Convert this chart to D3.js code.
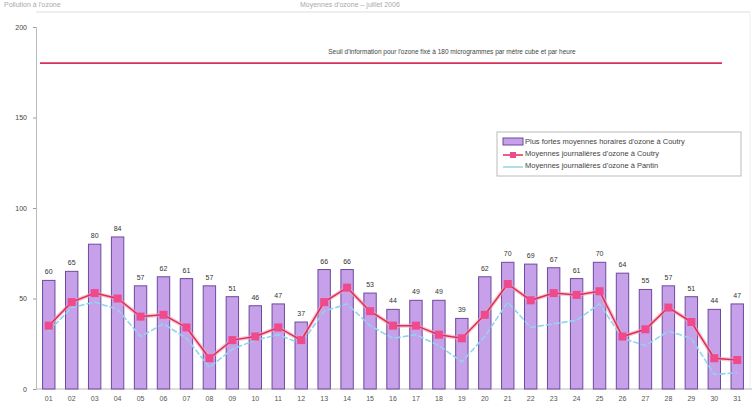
<!DOCTYPE html>
<html>
<head>
<meta charset="utf-8">
<script src="https://cdn.jsdelivr.net/npm/d3@7"></script>
<style>
  body { margin: 0; background: #fff; }
  svg { display: block; font-family: "Liberation Sans", Arial, sans-serif; }
</style>
</head>
<body>
<div id="chart"></div>
<script>
// days of the month
const days = d3.range(1, 32).map(d => d3.format("02")(d));
// plus fortes moyennes horaires d'ozone à Coutry
const maxHourly = [60, 65, 80, 84, 57, 62, 61, 57, 51, 46, 47, 37, 66, 66, 53, 44, 49, 49, 39, 62, 70, 69, 67, 61, 70, 64, 55, 57, 51, 44, 47];
// moyennes journalières à Coutry
const dailyCoutry = [35, 48, 53, 50, 40, 41, 34, 17, 27, 29, 34, 27, 48, 56, 43, 35, 35, 30, 28, 41, 58, 49, 53, 52, 54, 29, 33, 45, 37, 17, 16];
// moyennes journalières à Pantin
const dailyPantin = [32, 45, 48, 44, 29, 36, 28, 12, 22, 27, 30, 25, 43, 47, 35, 28, 30, 24, 15, 29, 48, 34, 36, 38, 47, 28, 24, 32, 28, 8, 9];
const yTicks = [0, 50, 100, 150, 200];
const threshold = 180;
const thresholdLabel = "Seuil d'information pour l'ozone fixé à 180 microgrammes par mètre cube et par heure";
const legendLabels = [
    "Plus fortes moyennes horaires d'ozone à Coutry",
    "Moyennes journalières d'ozone à Coutry",
    "Moyennes journalières d'ozone à Pantin"
];

const width = 754, height = 407;
const svg = d3.select("#chart").append("svg")
    .attr("width", width)
    .attr("height", height);

const x = d3.scaleBand()
    .domain(days)
    .range([32, 754])
    .padding(0.46);

const y = d3.scaleLinear()
    .domain([0, 200])
    .range([389, 27]);

// faint scan texts at the very top
svg.append("text").attr("x", 4).attr("y", 7).attr("font-size", 7).attr("fill", "#aaa")
    .text("Pollution à l'ozone");
svg.append("text").attr("x", 300).attr("y", 7).attr("font-size", 7).attr("fill", "#aaa")
    .text("Moyennes d'ozone – juillet 2006");

// frame
svg.append("line").attr("x1", 36).attr("x2", 750).attr("y1", 12).attr("y2", 12)
    .attr("stroke", "#ddd");
svg.append("line").attr("x1", 750).attr("x2", 750).attr("y1", 12).attr("y2", 389)
    .attr("stroke", "#eee");

// y axis
const yAxis = svg.append("g")
    .attr("transform", "translate(36,0)")
    .call(d3.axisLeft(y).tickValues(yTicks).tickSize(3).tickPadding(6));
yAxis.select(".domain").attr("stroke", "#bbb");
yAxis.selectAll(".tick line").attr("stroke", "#999");
yAxis.selectAll("text").attr("font-size", 7).attr("fill", "#444");

// x axis
const xAxis = svg.append("g")
    .attr("transform", "translate(0,389)")
    .call(d3.axisBottom(x).tickSize(0).tickPadding(7));
xAxis.select(".domain").attr("stroke", "#bbb").attr("d", "M36,0H752");
xAxis.selectAll("text").attr("font-size", 7).attr("fill", "#555");

// threshold
svg.append("line")
    .attr("x1", 40).attr("x2", 722)
    .attr("y1", y(threshold)).attr("y2", y(threshold))
    .attr("stroke", "#d8305a").attr("stroke-width", 1.8);
svg.append("text")
    .attr("x", 452).attr("y", y(threshold) - 9)
    .attr("text-anchor", "middle")
    .attr("font-size", 6.5).attr("fill", "#444")
    .text(thresholdLabel);

// bars
svg.append("g").selectAll("rect")
    .data(maxHourly)
    .join("rect")
    .attr("x", (d, i) => x(days[i]))
    .attr("y", d => y(d))
    .attr("width", x.bandwidth())
    .attr("height", d => y(0) - y(d))
    .attr("fill", "#c6a0e8")
    .attr("stroke", "#6e4a9e")
    .attr("stroke-width", 1);

svg.append("g").selectAll("text")
    .data(maxHourly)
    .join("text")
    .attr("x", (d, i) => x(days[i]) + x.bandwidth() / 2)
    .attr("y", d => y(d) - 6)
    .attr("text-anchor", "middle")
    .attr("font-size", 7)
    .attr("fill", "#333")
    .text(d => d);

const cx = (d, i) => x(days[i]) + x.bandwidth() / 2;

// Pantin line
svg.append("path")
    .datum(dailyPantin)
    .attr("fill", "none")
    .attr("stroke", "#92d3ee")
    .attr("stroke-width", 1.6)
    .attr("stroke-dasharray", "6,2")
    .attr("d", d3.line().x(cx).y(d => y(d)));

// Coutry line
svg.append("path")
    .datum(dailyCoutry)
    .attr("fill", "none")
    .attr("stroke", "#f4a3c0")
    .attr("stroke-width", 4)
    .attr("stroke-opacity", 0.6)
    .attr("d", d3.line().x(cx).y(d => y(d)));
svg.append("path")
    .datum(dailyCoutry)
    .attr("fill", "none")
    .attr("stroke", "#dc2f55")
    .attr("stroke-width", 1.5)
    .attr("d", d3.line().x(cx).y(d => y(d)));
svg.append("g").selectAll("rect")
    .data(dailyCoutry)
    .join("rect")
    .attr("x", (d, i) => cx(d, i) - 4)
    .attr("y", d => y(d) - 4)
    .attr("width", 8).attr("height", 8)
    .attr("fill", "#ee4a8c");

// legend
const legend = svg.append("g").attr("transform", "translate(497,132)");
legend.append("rect")
    .attr("width", 244).attr("height", 44)
    .attr("fill", "#fff").attr("stroke", "#bbb");
legend.append("rect").attr("x", 6).attr("y", 6).attr("width", 20).attr("height", 7)
    .attr("fill", "#c6a0e8").attr("stroke", "#6e4a9e");
legend.append("line").attr("x1", 6).attr("x2", 26).attr("y1", 23).attr("y2", 23)
    .attr("stroke", "#dc2f55").attr("stroke-width", 1.5);
legend.append("rect").attr("x", 13).attr("y", 20).attr("width", 6).attr("height", 6)
    .attr("fill", "#ee4a8c");
legend.append("line").attr("x1", 6).attr("x2", 26).attr("y1", 35).attr("y2", 35)
    .attr("stroke", "#92d3ee").attr("stroke-width", 1.5);
legend.selectAll("text.lab")
    .data(legendLabels)
    .join("text")
    .attr("class", "lab")
    .attr("x", 28)
    .attr("y", (d, i) => 12 + i * 12)
    .attr("font-size", 7.5)
    .attr("fill", "#444")
    .text(d => d);
</script>
</body>
</html>
